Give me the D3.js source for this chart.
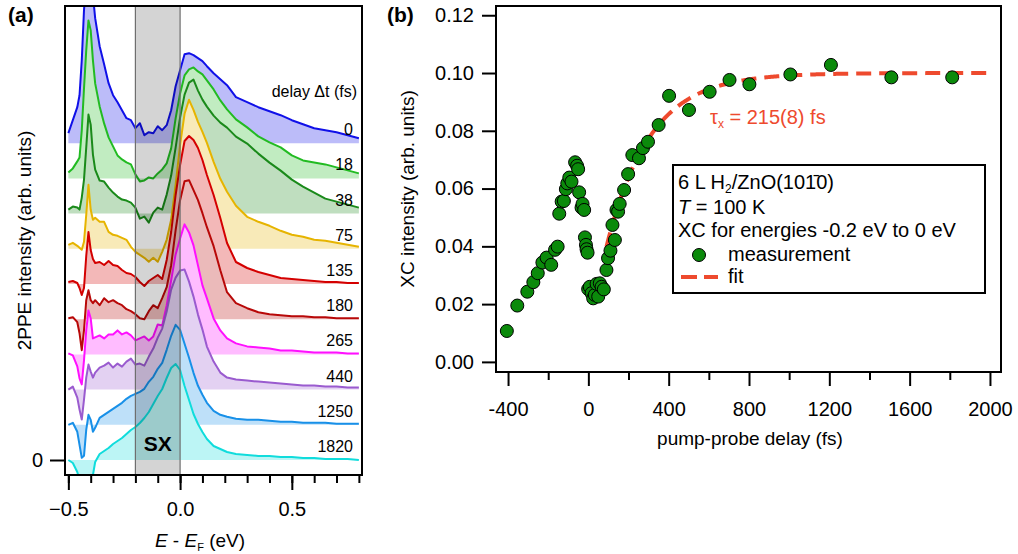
<!DOCTYPE html>
<html><head><meta charset="utf-8">
<script src="https://cdn.jsdelivr.net/npm/d3@7"></script>
<style>
body{margin:0;background:#fff;}
svg{font-family:"Liberation Sans",Arial,Helvetica,sans-serif;}
</style></head><body>
<svg id="chart" width="1018" height="554"></svg>
<script>
// ---------- Panel (a) data: 2PPE spectra (arb. units, baseline-subtracted) ----------
const energies = [-0.50,-0.48,-0.46,-0.45,-0.44,-0.43,-0.42,-0.41,-0.40,-0.39,-0.38,-0.36,-0.34,-0.32,-0.30,-0.28,-0.26,-0.24,-0.22,-0.20,-0.18,-0.16,-0.14,-0.12,-0.10,-0.08,-0.06,-0.04,-0.02,0.00,0.02,0.04,0.06,0.08,0.10,0.12,0.15,0.18,0.21,0.25,0.30,0.35,0.40,0.45,0.50,0.55,0.60,0.65,0.70,0.75,0.80];
const delayLabels = ["0","18","38","75","135","180","265","440","1250","1820"];
const traceColors = ["#1010e8","#22bb22","#1a8a1a","#e6b400","#d40000","#b80808","#ff10ff","#9a5bcf","#1890e8","#10dcdc"];
const spec_0fs    = [10,23,36,48,83,133,163,173,163,148,125,97,79,60,48,41,33,25,23,15,20,8,11,10,17,13,18,33,57,73,89,90,88,85,82,77,70,64,58,46,41,36,32,28,23,19,15,13,11,8,5];
const spec_18fs   = [6,10,17,21,48,90,128,158,148,118,95,72,55,41,32,23,19,16,14,4,-3,-2,1,0,5,9,15,30,60,85,103,109,111,107,104,98,89,78,69,59,51,42,36,31,23,18,16,14,11,8,5];
const spec_38fs   = [4,7,6,4,16,34,66,99,89,59,44,33,32,26,21,17,14,13,11,6,-5,-3,-9,1,6,4,19,38,66,96,119,131,134,123,114,107,98,91,86,77,70,60,51,43,34,27,21,15,12,9,6];
const spec_75fs   = [4,6,3,1,-1,7,34,64,39,29,31,27,27,17,14,13,11,9,2,-3,-6,-9,-13,-9,-13,-3,9,29,64,104,135,149,139,127,117,106,87,70,57,43,32,27,23,18,14,12,9,8,6,4,2];
const spec_135fs  = [2,3,1,-4,-11,-4,28,52,34,25,21,22,19,23,19,18,14,11,10,7,2,-2,3,6,9,5,24,52,89,119,143,148,144,136,124,109,89,66,41,22,16,12,9,6,5,4,3,2,2,1,1];
const spec_180fs  = [1,2,-3,-14,-31,-11,19,29,19,16,19,14,21,17,19,16,14,10,8,5,1,0,8,14,11,21,32,54,89,119,138,139,129,119,106,92,73,49,27,16,11,7,5,4,3,3,2,2,1,1,1];
const spec_265fs  = [1,-1,-12,-24,-30,-6,24,44,36,16,17,19,16,20,20,24,20,22,19,14,16,18,14,18,30,29,49,74,100,116,130,122,109,89,69,56,36,24,16,11,8,7,6,4,4,3,2,2,2,1,1];
const spec_440fs  = [0,3,-8,-20,-30,-10,12,25,18,12,17,22,24,27,22,26,23,28,31,25,26,24,33,41,52,61,78,100,112,119,120,108,93,75,60,43,28,17,12,10,9,8,7,6,5,4,4,3,3,2,2];
const spec_1250fs = [0,2,-7,-20,-33,-31,-5,10,5,-7,-3,7,10,13,16,19,22,26,29,31,33,36,43,48,56,62,75,89,100,95,81,67,52,39,30,22,14,10,8,6,5,5,4,3,3,2,2,2,1,1,1];
const spec_1820fs = [0,-3,-12,-20,-30,-25,-20,-30,-25,-15,-2,6,9,12,16,19,22,26,30,33,37,42,48,56,64,71,82,92,96,90,74,60,46,36,28,21,14,11,8,6,5,4,4,3,3,2,2,1,1,1,0];
const spectra = [spec_0fs,spec_18fs,spec_38fs,spec_75fs,spec_135fs,spec_180fs,spec_265fs,spec_440fs,spec_1250fs,spec_1820fs];
const traceOffsetStep = 35.2;
const sxRange = [-0.2, 0.0];
const xTicksA = [-0.5, 0.0, 0.5];
const xMinorTicksA = [-0.5,-0.4,-0.3,-0.2,-0.1,0,0.1,0.2,0.3,0.4,0.5,0.6,0.7,0.8];

// ---------- Panel (b) data: XC intensity vs pump-probe delay ----------
const pumpProbeDelay = [-406,-354,-304,-274,-252,-229,-208,-185,-166,-153,-145,-133,-122,-112,-105,-95,-84,-66,-56,-51,-46,-34,-29,-21,-17,-12,-9,-4,-1,7,16,24,32,41,49,57,66,77,90,98,110,120,132,140,148,156,178,198,219,252,272,297,350,402,501,604,703,802,1006,1208,1509,1812];
const xcIntensity = [0.0107,0.0195,0.0243,0.0276,0.0307,0.0344,0.0361,0.0336,0.0388,0.0399,0.0513,0.0555,0.0557,0.0598,0.0618,0.0638,0.0624,0.0691,0.0679,0.0667,0.0587,0.0534,0.0547,0.0526,0.0431,0.0405,0.0390,0.0378,0.0252,0.0260,0.0238,0.0220,0.0232,0.0270,0.0226,0.0272,0.0260,0.0251,0.0318,0.0359,0.0385,0.0474,0.0422,0.0526,0.0520,0.0547,0.0595,0.0650,0.0716,0.0705,0.0740,0.0762,0.0820,0.0921,0.0872,0.0935,0.0976,0.0961,0.0995,0.1028,0.0985,0.0985];
const fitAmplitude = 0.100, fitTau = 215, fitOnset = -19, fitStart = 90, fitEnd = 2000;
const xTicksB = [-400,0,400,800,1200,1600,2000];
const xMinorTicksB = [-200,200,600,1000,1400,1800];
const yTicksB = [0.00,0.02,0.04,0.06,0.08,0.10,0.12];

const svg = d3.select("#chart");
const F = 19;      // axis titles
const FT = 20;     // tick labels, legend

function lighten(c, t){ const a=d3.rgb(c), w=255; return d3.rgb(w+(a.r-w)*t, w+(a.g-w)*t, w+(a.b-w)*t).formatHex(); }

// ================= PANEL (a) =================
const A = {l:65, t:6, r:362, b:475};
const xA = d3.scaleLinear().domain([-0.515, 0.814]).range([A.l, A.r]);
const yA = d3.scaleLinear().domain([-15, 454]).range([A.b, A.t]);

svg.append("clipPath").attr("id","clipA").append("rect")
  .attr("x",A.l).attr("y",A.t).attr("width",A.r-A.l).attr("height",A.b-A.t);
const gA = svg.append("g").attr("clip-path","url(#clipA)");

spectra.forEach((vals,k)=>{
  const off = (spectra.length-1-k)*traceOffsetStep;
  const pts = energies.map((e,i)=>[e, vals[i]]);
  const area = d3.area().x(d=>xA(d[0])).y0(yA(off)).y1(d=>yA(d[1]+off));
  const line = d3.line().x(d=>xA(d[0])).y(d=>yA(d[1]+off));
  gA.append("path").attr("d",area(pts)).attr("fill",lighten(traceColors[k],0.28)).attr("stroke","none");
  gA.append("path").attr("d",line(pts)).attr("fill","none").attr("stroke",traceColors[k]).attr("stroke-width",2).attr("stroke-linejoin","round");
});

// SX band overlay
gA.append("rect").attr("x",xA(sxRange[0])).attr("y",A.t).attr("width",xA(sxRange[1])-xA(sxRange[0])).attr("height",A.b-A.t)
  .attr("fill","rgba(0,0,0,0.17)").attr("stroke","#6e6e6e").attr("stroke-width",1.2);

// delay labels
svg.append("text").attr("x",357).attr("y",97).attr("text-anchor","end").attr("font-size",16).text("delay \u0394t (fs)");
delayLabels.forEach((lab,k)=>{
  const off=(spectra.length-1-k)*traceOffsetStep;
  svg.append("text").attr("x",353).attr("y",yA(off)-8).attr("text-anchor","end").attr("font-size",16).text(lab);
});
svg.append("text").attr("x",xA(-0.1)).attr("y",451).attr("text-anchor","middle").attr("font-size",21).attr("font-weight","bold").text("SX");

// frame & axes (a)
svg.append("rect").attr("x",A.l).attr("y",A.t).attr("width",A.r-A.l).attr("height",A.b-A.t).attr("fill","none").attr("stroke","#000").attr("stroke-width",2);
const axA = svg.append("g").attr("transform",`translate(0,${A.b})`)
  .call(d3.axisBottom(xA).tickValues(xTicksA).tickSize(15).tickPadding(12).tickFormat(d3.format(".1f")));
const axAm = svg.append("g").attr("transform",`translate(0,${A.b})`)
  .call(d3.axisBottom(xA).tickValues(xMinorTicksA).tickSize(8).tickFormat(""));
const ayA = svg.append("g").attr("transform",`translate(${A.l},0)`)
  .call(d3.axisLeft(yA).tickValues([0]).tickSize(15).tickPadding(7).tickFormat(d3.format("d")));
[axA,axAm,ayA].forEach(g=>{g.select(".domain").remove(); g.selectAll("line").attr("stroke","#000").attr("stroke-width",2);
  g.selectAll("text").attr("font-size",FT).attr("font-family","Liberation Sans, Arial, sans-serif").attr("fill","#000");});

const xtA = svg.append("text").attr("x",200).attr("y",547).attr("text-anchor","middle").attr("font-size",F);
xtA.append("tspan").attr("font-style","italic").text("E");
xtA.append("tspan").text(" - ");
xtA.append("tspan").attr("font-style","italic").text("E");
xtA.append("tspan").attr("font-size",11).attr("dy",4).text("F");
xtA.append("tspan").attr("dy",-4).text(" (eV)");
svg.append("text").attr("transform",`translate(31,${(A.t+A.b)/2}) rotate(-90)`).attr("text-anchor","middle").attr("font-size",F).text("2PPE intensity (arb. units)");
svg.append("text").attr("x",8).attr("y",22).attr("font-size",21).attr("font-weight","bold").text("(a)");

// ================= PANEL (b) =================
const B = {l:496, t:6, r:1001, b:372};
const xB = d3.scaleLinear().domain([-460, 2055]).range([B.l, B.r]);
const yB = d3.scaleLinear().domain([-0.0035, 0.1232]).range([B.b, B.t]);
const fitColor = "#ee4a2e";

svg.append("clipPath").attr("id","clipB").append("rect")
  .attr("x",B.l).attr("y",B.t).attr("width",B.r-B.l).attr("height",B.b-B.t);
const gB = svg.append("g").attr("clip-path","url(#clipB)");

const fitT = d3.range(fitStart, fitEnd+1, 5);
const fitLine = d3.line().x(t=>xB(t)).y(t=>yB(fitAmplitude*(1-Math.exp(-(t-fitOnset)/fitTau))));
gB.append("path").attr("d",fitLine(fitT)).attr("fill","none").attr("stroke",fitColor).attr("stroke-width",4).attr("stroke-dasharray","15,8");

gB.selectAll("circle.pt").data(pumpProbeDelay.map((t,i)=>[t,xcIntensity[i]])).enter().append("circle")
  .attr("class","pt").attr("cx",d=>xB(d[0])).attr("cy",d=>yB(d[1])).attr("r",6.5)
  .attr("fill","#0b8a0b").attr("stroke","#000").attr("stroke-width",1);

svg.append("rect").attr("x",B.l).attr("y",B.t).attr("width",B.r-B.l).attr("height",B.b-B.t).attr("fill","none").attr("stroke","#000").attr("stroke-width",2);
const axB = svg.append("g").attr("transform",`translate(0,${B.b})`)
  .call(d3.axisBottom(xB).tickValues(xTicksB).tickSize(14).tickPadding(16).tickFormat(d3.format("d")));
const axBm = svg.append("g").attr("transform",`translate(0,${B.b})`)
  .call(d3.axisBottom(xB).tickValues(xMinorTicksB).tickSize(8).tickFormat(""));
const ayB = svg.append("g").attr("transform",`translate(${B.l},0)`)
  .call(d3.axisLeft(yB).tickValues(yTicksB).tickSize(14).tickPadding(8).tickFormat(d3.format(".2f")));
[axB,axBm,ayB].forEach(g=>{g.select(".domain").remove(); g.selectAll("line").attr("stroke","#000").attr("stroke-width",2);
  g.selectAll("text").attr("font-size",FT).attr("font-family","Liberation Sans, Arial, sans-serif").attr("fill","#000");});
axB.selectAll("text").text(d=>d<0?"-"+Math.abs(d):d);

svg.append("text").attr("x",750).attr("y",445).attr("text-anchor","middle").attr("font-size",F).text("pump-probe delay (fs)");
svg.append("text").attr("transform",`translate(414,${(B.t+B.b)/2}) rotate(-90)`).attr("text-anchor","middle").attr("font-size",F).text("XC intensity (arb. units)");
svg.append("text").attr("x",387).attr("y",22).attr("font-size",21).attr("font-weight","bold").text("(b)");

// tau label
const tl = svg.append("text").attr("x",710).attr("y",124).attr("font-size",FT).attr("fill",fitColor);
tl.append("tspan").text("\u03C4");
tl.append("tspan").attr("font-size",12).attr("dy",4).text("x");
tl.append("tspan").attr("dy",-4).text(" = 215(8) fs");

// legend box
const L = svg.append("g");
L.append("rect").attr("x",673).attr("y",165).attr("width",312).attr("height",128).attr("fill","#fff").attr("stroke","#000").attr("stroke-width",2);
const l1 = L.append("text").attr("x",678).attr("y",189).attr("font-size",FT);
l1.append("tspan").text("6 L H");
l1.append("tspan").attr("font-size",12).attr("dy",4).text("2");
l1.append("tspan").attr("dy",-4).text("/ZnO(101\u03040)");
const l2 = L.append("text").attr("x",678).attr("y",214).attr("font-size",FT);
l2.append("tspan").attr("font-style","italic").text("T");
l2.append("tspan").text(" = 100 K");
L.append("text").attr("x",678).attr("y",237).attr("font-size",FT).text("XC for energies -0.2 eV to 0 eV");
L.append("circle").attr("cx",699).attr("cy",255).attr("r",6.5).attr("fill","#0b8a0b").attr("stroke","#000").attr("stroke-width",1);
L.append("text").attr("x",728).attr("y",261).attr("font-size",FT).text("measurement");
L.append("line").attr("x1",681).attr("x2",718).attr("y1",277).attr("y2",277).attr("stroke",fitColor).attr("stroke-width",4).attr("stroke-dasharray","16,7");
L.append("text").attr("x",728).attr("y",283).attr("font-size",FT).text("fit");
</script>
</body></html>
